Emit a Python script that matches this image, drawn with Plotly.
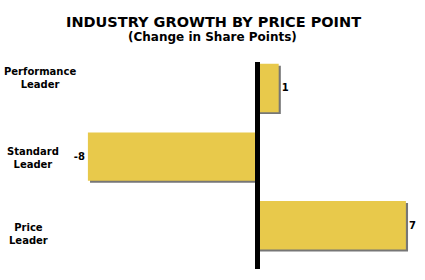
import plotly.graph_objects as go

categories = ["Performance<br>Leader", "Standard<br>Leader", "Price<br>Leader"]
values = [1, -8, 7]
value_labels = ["1", "-8", "7"]

title = "INDUSTRY GROWTH BY PRICE POINT"
subtitle = "(Change in Share Points)"

W, H = 425, 280
T, B = 54, 20
PH = H - T - B
FONT = "DejaVu Sans"
BAR = "#E8C94B"

def py(p):
    return (H - B - p) / PH

fig = go.Figure()
# drop shadow
fig.add_trace(go.Bar(
    y=categories, x=values, orientation="h", base=0.1,
    marker=dict(color="rgba(60,60,60,0.7)", line=dict(width=0)),
    offset=-0.33, width=0.705, hoverinfo="skip", showlegend=False,
))
fig.add_trace(go.Bar(
    y=categories, x=values, orientation="h",
    marker=dict(color=BAR, line=dict(width=0)),
    offset=-0.3525 - 0.005, width=0.705,
    text=["<b>%s</b>" % t for t in value_labels], textposition="outside",
    textfont=dict(family=FONT, size=10, color="black"),
    cliponaxis=False, showlegend=False,
))

label_x = [40, 33, 28]
label_shift = [10, -1, -8]
annotations = []
for c, lx, ys in zip(categories, label_x, label_shift):
    annotations.append(dict(
        x=lx / W, xref="paper", y=c, yref="y", text="<b>%s</b>" % c,
        showarrow=False, xanchor="center", yanchor="middle", yshift=ys,
        font=dict(family=FONT, size=10, color="black"), align="center",
    ))
annotations.append(dict(x=213 / W, xref="paper", y=py(22), yref="paper",
                        text="<b>%s</b>" % title, showarrow=False,
                        xanchor="center", yanchor="middle",
                        font=dict(family=FONT, size=14.5, color="black")))
annotations.append(dict(x=212 / W, xref="paper", y=py(37.5), yref="paper",
                        text="<b>%s</b>" % subtitle, showarrow=False,
                        xanchor="center", yanchor="middle",
                        font=dict(family=FONT, size=12, color="black")))

fig.add_shape(type="line", xref="x", yref="paper", x0=0, x1=0,
              y0=py(269), y1=py(62), line=dict(color="black", width=5),
              layer="above")

fig.update_layout(
    width=W, height=H, margin=dict(l=0, r=0, t=T, b=B),
    paper_bgcolor="white", plot_bgcolor="white",
    barmode="overlay", bargap=0.295,
    xaxis=dict(range=[-257.5 / 21.2, 167.5 / 21.2], visible=False, fixedrange=True),
    yaxis=dict(autorange="reversed", visible=False, type="category", fixedrange=True),
    annotations=annotations,
)
fig.write_html("out.html", config={"displayModeBar": False})
